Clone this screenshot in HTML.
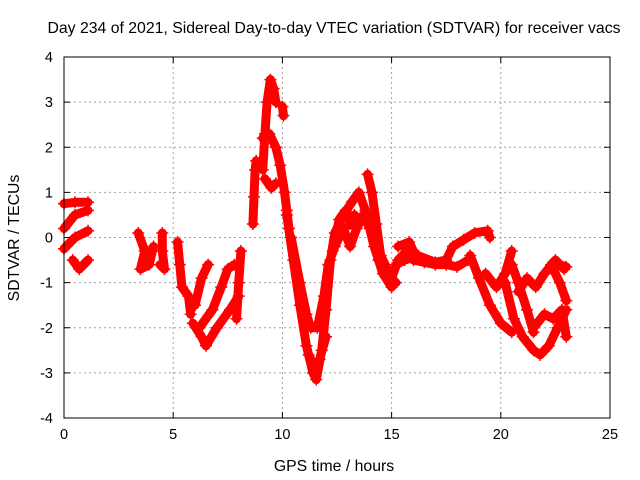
<!DOCTYPE html>
<html><head><meta charset="utf-8"><style>
body{margin:0;background:#fff;}
svg{display:block;font-family:"Liberation Sans",sans-serif;}
</style></head><body>
<svg id="chart" width="640" height="480">
<rect width="640" height="480" fill="#fff"/>
<text x="334" y="33" font-size="15.8" text-anchor="middle">Day 234 of 2021, Sidereal Day-to-day VTEC variation (SDTVAR) for receiver vacs</text>
<g id="grid"></g><g id="data"></g><g id="axes"></g>
<text x="334" y="471" font-size="15.8" text-anchor="middle">GPS time / hours</text>
<text transform="translate(19,238) rotate(-90)" font-size="15.8" text-anchor="middle">SDTVAR / TECUs</text>
</svg>
<script>
const xTicks=[0,5,10,15,20,25];
const yTicks=[-4,-3,-2,-1,0,1,2,3,4];
const tracks=[
[[0,0.75],[0.5,0.78],[1.1,0.78]],
[[0,0.2],[0.5,0.5],[1.1,0.6]],
[[0,-0.25],[0.5,0],[1.1,0.15]],
[[0.4,-0.5],[0.7,-0.7],[1.1,-0.5]],
[[3.4,0.1],[3.7,-0.3],[3.5,-0.7],[3.9,-0.6],[4.1,-0.2]],
[[4.5,0.1],[4.5,-0.3],[4.6,-0.7],[4.4,-0.6]],
[[5.2,-0.1],[5.3,-0.6],[5.4,-1.1],[5.7,-1.3],[5.8,-1.7]],
[[5.9,-1.9],[6.3,-2.2],[6.5,-2.4],[7.0,-2.0],[7.6,-1.6],[8.0,-1.3]],
[[6.0,-1.5],[6.3,-0.9],[6.6,-0.6]],
[[6.2,-2.0],[6.8,-1.6],[7.2,-1.1],[7.5,-0.7],[7.8,-0.6]],
[[7.9,-1.8],[8.0,-1.0],[8.1,-0.3]],
[[8.65,0.3],[8.7,0.9],[8.75,1.5],[8.8,1.7]],
[[9.1,1.5],[9.2,2.3],[9.3,3.0],[9.45,3.5],[9.6,3.3],[9.7,3.0]],
[[9.1,2.2],[9.4,2.3],[9.7,2.0],[9.9,1.6],[10.1,1.0],[10.2,0.6],[10.3,0.2]],
[[10.0,2.9],[10.05,2.7]],
[[9.2,1.3],[9.5,1.1],[9.7,1.2]],
[[10.2,0.5],[10.5,-0.5],[10.8,-1.5],[11.1,-2.4],[11.4,-3.0],[11.55,-3.15],[11.8,-2.5],[12.0,-1.6],[12.2,-0.5],[12.4,0.1],[12.8,0.5],[13.2,0.8],[13.5,1.0],[13.8,0.6],[14.2,-0.2],[14.6,-0.8],[15.0,-1.1]],
[[10.4,0],[10.8,-1.0],[11.1,-1.7],[11.3,-2.0],[11.6,-2.0],[11.9,-1.3],[12.1,-0.6],[12.4,-0.2],[12.8,0.2],[13.1,-0.2],[13.4,0.2],[13.7,0.5],[14.0,0.2],[14.4,-0.5],[14.8,-0.9],[15.2,-1.0]],
[[11.2,-2.6],[11.5,-2.9],[11.7,-2.7],[12.0,-2.2]],
[[12.3,-0.3],[12.6,0.4],[12.9,0.6],[13.1,0.3],[13.3,0.5]],
[[13.9,1.4],[14.1,1.0],[14.3,0.3],[14.5,-0.4],[14.8,-0.7]],
[[15.0,-0.9],[15.3,-0.5],[15.7,-0.3],[16.0,-0.5],[16.5,-0.55],[17,-0.6],[17.5,-0.6],[18,-0.65],[18.5,-0.5]],
[[15.2,-0.6],[15.6,-0.5],[16.2,-0.4],[17,-0.55],[17.5,-0.5],[17.8,-0.2],[18.3,-0.05],[18.8,0.1],[19.4,0.15],[19.5,0]],
[[15.3,-0.2],[15.8,-0.1],[16.0,-0.3]],
[[18.6,-0.4],[19.0,-0.9],[19.5,-1.5],[20.0,-1.9],[20.5,-2.1]],
[[19.3,-0.8],[19.8,-1.1],[20.2,-0.8],[20.5,-0.3]],
[[20.5,-0.6],[20.8,-1.0],[21.2,-1.6],[21.5,-2.1]],
[[20.2,-1.0],[20.6,-1.8],[21.0,-2.2],[21.5,-2.5],[21.8,-2.6],[22.2,-2.4],[22.6,-2.0],[23.0,-1.6]],
[[20.8,-1.2],[21.2,-0.9],[21.6,-1.1],[22.0,-0.8],[22.5,-0.5],[22.9,-0.7]],
[[21.5,-2.0],[22.0,-1.7],[22.4,-1.8],[22.8,-1.6],[23.0,-2.2]],
[[22.3,-0.6],[22.7,-1.0],[23.0,-1.4]],
[[22.7,-0.6],[23.0,-0.65]]
];
const L=64,R=610,T=57,B=418,xMin=0,xMax=25,yMin=-4,yMax=4;
function sx(v){return L+(v-xMin)/(xMax-xMin)*(R-L);}
function sy(v){return B-(v-yMin)/(yMax-yMin)*(B-T);}
const NS='http://www.w3.org/2000/svg';
function mk(tag,attrs,parent){const e=document.createElementNS(NS,tag);for(const k in attrs)e.setAttribute(k,attrs[k]);parent.appendChild(e);return e;}
const grid=document.getElementById('grid'),axes=document.getElementById('axes'),data=document.getElementById('data');
xTicks.forEach(t=>{
  const x=sx(t);
  if(t>xMin&&t<xMax){const g=mk('line',{x1:x,x2:x,y1:T,y2:B,stroke:'#a0a0a0','stroke-dasharray':'2,3'},grid);
  
  }
  mk('line',{x1:x,x2:x,y1:B,y2:B-6,stroke:'#000'},axes);
  mk('line',{x1:x,x2:x,y1:T,y2:T+6,stroke:'#000'},axes);
  const tx=mk('text',{x:x,y:B+21,'font-size':14.5,'text-anchor':'middle'},axes);
  tx.textContent=t;
  
  
});
yTicks.forEach(t=>{
  const y=sy(t);
  if(t>yMin&&t<yMax){const g=mk('line',{x1:L,x2:R,y1:y,y2:y,stroke:'#a0a0a0','stroke-dasharray':'2,3'},grid);
  
  }
  mk('line',{x1:L,x2:L+6,y1:y,y2:y,stroke:'#000'},axes);
  mk('line',{x1:R,x2:R-6,y1:y,y2:y,stroke:'#000'},axes);
  const tx=mk('text',{x:L-11,y:y+5,'font-size':14.5,'text-anchor':'end'},axes);
  tx.textContent=t;
  
  
});
const frame=mk('rect',{x:L,y:T,width:R-L,height:B-T,fill:'none',stroke:'#000'},axes);


tracks.forEach(tr=>{
  const pl=mk('polyline',{points:tr.map(p=>sx(p[0])+','+sy(p[1])).join(' '),fill:'none',stroke:'#f00','stroke-width':9,'stroke-linejoin':'round','stroke-linecap':'round'},data);
  
  
  tr.forEach(p=>{
    const x=sx(p[0]),y=sy(p[1]);
    const m=mk('path',{d:`M${x-6},${y}H${x+6}M${x},${y-6}V${y+6}`,stroke:'#f00','stroke-width':1.5},data);
    
    
  });
});
</script>
</body></html>
